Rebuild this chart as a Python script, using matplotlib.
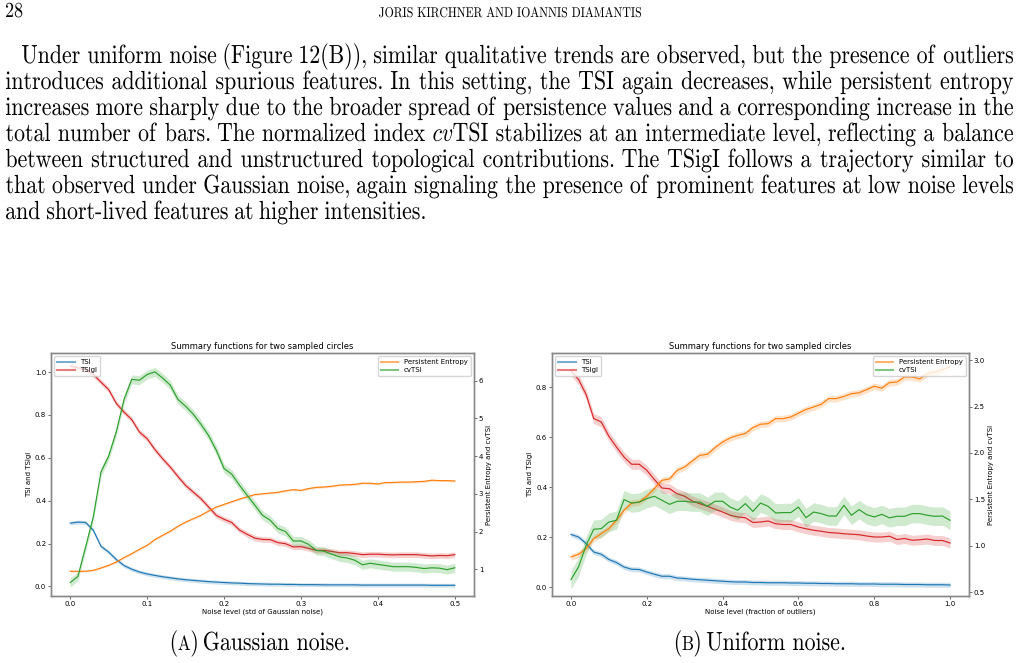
import matplotlib.pyplot as plt
import numpy as np
from matplotlib.textpath import TextPath
from matplotlib.patches import PathPatch
from matplotlib.font_manager import FontProperties
from matplotlib.transforms import Affine2D

W, H = 1019, 663
plt.rcParams['mathtext.fontset'] = 'cm'
plt.rcParams['font.family'] = 'DejaVu Sans'

# ---- data: Gaussian noise (std), step 0.01 ----
gauss_x = np.round(np.arange(51) * 0.01, 2)
gauss_tsi = [0.295, 0.300, 0.298, 0.262, 0.187, 0.160, 0.125, 0.097, 0.080, 0.067,
             0.058, 0.051, 0.045, 0.040, 0.035, 0.031, 0.028, 0.025, 0.022, 0.020,
             0.018, 0.016, 0.015, 0.013, 0.012, 0.011, 0.010, 0.010, 0.009, 0.009,
             0.008, 0.008, 0.008, 0.007, 0.007, 0.007, 0.007, 0.007, 0.006, 0.006,
             0.006, 0.006, 0.006, 0.006, 0.006, 0.006, 0.006, 0.005, 0.005, 0.005, 0.005]
gauss_tsigi = [1.028, 1.020, 1.011, 0.989, 0.953, 0.918, 0.853, 0.813, 0.778, 0.720,
               0.689, 0.639, 0.596, 0.557, 0.513, 0.471, 0.440, 0.409, 0.370, 0.331,
               0.313, 0.298, 0.263, 0.243, 0.225, 0.219, 0.218, 0.204, 0.199, 0.184,
               0.185, 0.177, 0.168, 0.168, 0.163, 0.157, 0.157, 0.153, 0.148, 0.150,
               0.150, 0.148, 0.147, 0.148, 0.148, 0.148, 0.145, 0.142, 0.144, 0.143, 0.148]
gauss_pe = [0.947, 0.947, 0.950, 0.973, 1.035, 1.106, 1.194, 1.310, 1.415, 1.530,
            1.636, 1.787, 1.900, 2.007, 2.140, 2.250, 2.340, 2.430, 2.545, 2.650,
            2.720, 2.790, 2.860, 2.920, 2.980, 3.000, 3.020, 3.040, 3.080, 3.110,
            3.090, 3.140, 3.170, 3.180, 3.200, 3.230, 3.240, 3.250, 3.280, 3.280,
            3.260, 3.300, 3.300, 3.310, 3.310, 3.320, 3.330, 3.360, 3.350, 3.350, 3.340]
gauss_cv = [0.65, 0.81, 1.59, 2.39, 3.58, 4.00, 4.65, 5.50, 6.03, 6.01,
            6.16, 6.23, 6.07, 5.88, 5.50, 5.32, 5.11, 4.84, 4.54, 4.15,
            3.67, 3.52, 3.23, 2.96, 2.70, 2.43, 2.30, 2.08, 2.00, 1.75,
            1.75, 1.66, 1.50, 1.48, 1.40, 1.33, 1.30, 1.24, 1.12, 1.16,
            1.13, 1.10, 1.07, 1.07, 1.07, 1.05, 1.02, 1.04, 1.03, 0.99, 1.04]
gauss_ci = {'tsi': 0.009, 'tsigi': 0.013, 'pe': 0.025, 'cv': 0.12}

# ---- data: uniform noise (fraction of outliers), step 0.02 ----
unif_x = np.round(np.arange(51) * 0.02, 2)
unif_tsi = [0.210, 0.200, 0.174, 0.140, 0.131, 0.110, 0.098, 0.080, 0.071, 0.070,
            0.060, 0.051, 0.043, 0.043, 0.036, 0.034, 0.031, 0.029, 0.027, 0.025,
            0.023, 0.021, 0.020, 0.020, 0.018, 0.018, 0.017, 0.017, 0.017, 0.016,
            0.016, 0.015, 0.015, 0.014, 0.014, 0.013, 0.013, 0.013, 0.012, 0.012,
            0.012, 0.011, 0.011, 0.011, 0.010, 0.010, 0.010, 0.009, 0.009, 0.009, 0.008]
unif_tsigi = [0.865, 0.830, 0.770, 0.674, 0.660, 0.603, 0.560, 0.520, 0.491, 0.491,
              0.467, 0.430, 0.396, 0.393, 0.373, 0.363, 0.344, 0.333, 0.323, 0.311,
              0.300, 0.287, 0.280, 0.277, 0.258, 0.260, 0.264, 0.253, 0.250, 0.250,
              0.240, 0.233, 0.227, 0.223, 0.218, 0.216, 0.213, 0.211, 0.209, 0.204,
              0.200, 0.200, 0.203, 0.190, 0.194, 0.187, 0.189, 0.192, 0.186, 0.186, 0.176]
unif_pe = [0.878, 0.907, 0.968, 1.076, 1.130, 1.184, 1.274, 1.382, 1.460, 1.470,
           1.533, 1.616, 1.705, 1.720, 1.813, 1.849, 1.914, 1.975, 1.986, 2.058,
           2.119, 2.162, 2.190, 2.210, 2.274, 2.310, 2.317, 2.371, 2.371, 2.389,
           2.430, 2.470, 2.496, 2.525, 2.587, 2.587, 2.610, 2.640, 2.650, 2.684,
           2.720, 2.700, 2.760, 2.766, 2.820, 2.820, 2.800, 2.857, 2.874, 2.900, 2.928]
unif_cv = [0.634, 0.770, 1.004, 1.177, 1.184, 1.255, 1.274, 1.497, 1.460, 1.470,
           1.508, 1.533, 1.490, 1.446, 1.479, 1.479, 1.470, 1.470, 1.425, 1.479,
           1.479, 1.417, 1.382, 1.454, 1.370, 1.460, 1.425, 1.353, 1.357, 1.357,
           1.417, 1.302, 1.363, 1.346, 1.320, 1.320, 1.436, 1.328, 1.389, 1.335,
           1.310, 1.338, 1.300, 1.317, 1.317, 1.346, 1.346, 1.328, 1.317, 1.320, 1.274]
unif_ci = {'tsi': 0.01, 'tsigi': 0.02, 'pe': 0.035, 'cv': 0.1}

paragraph = [
    "Under uniform noise (Figure 12(B)), similar qualitative trends are observed, but the presence of outliers",
    "introduces additional spurious features. In this setting, the TSI again decreases, while persistent entropy",
    "increases more sharply due to the broader spread of persistence values and a corresponding increase in the",
    "total number of bars. The normalized index $cv$TSI stabilizes at an intermediate level, reflecting a balance",
    "between structured and unstructured topological contributions. The TSigI follows a trajectory similar to",
    "that observed under Gaussian noise, again signaling the presence of prominent features at low noise levels",
    "and short-lived features at higher intensities.",
]

fig = plt.figure(figsize=(W / 100, H / 100), dpi=100)
FP = FontProperties(family='cmr10')
STRETCH = 1.2   # page text in the scan is taller than it is wide


def tpath(s, size):
    return TextPath((0, 0), s, size=size, prop=FP)


def ink_width(s, size):
    e = tpath(s, size).get_extents()
    return e.x1 - e.x0


def put(x, base, s, size):
    # x = left ink edge, base = baseline, both in pixels from top-left
    p = tpath(s, size)
    e = p.get_extents()
    tr = Affine2D().translate(-e.x0, 0).scale(1, STRETCH).translate(x, H - base)
    fig.add_artist(PathPatch(p, transform=tr, fc='black', lw=0))
    return e.x1 - e.x0


# body size fitted to the last (unjustified) line
body = 20 * (432 - 6) / ink_width(paragraph[-1], 20)
space = body * 0.333

# header
put(6, 17, "28", body * 0.82)
hdr = "JORIS KIRCHNER AND IOANNIS DIAMANTIS"
hsize = 20 * 262 / ink_width(hdr, 20)
put(510 - 131, 17, hdr, hsize)

# justified paragraph
base0, lead = 63, 26
for i, line in enumerate(paragraph):
    words = line.split(' ')
    widths = [ink_width(w, body) for w in words]
    x0 = 22 if i == 0 else 6
    if i == len(paragraph) - 1:
        gap = space
    else:
        gap = (1013 - x0 - sum(widths)) / (len(words) - 1)
    x = x0
    for w, wd in zip(words, widths):
        put(x, base0 + i * lead, w, body)
        x += wd + gap

# captions with small-caps letter
for cx, letter, rest in [(260, "A", "Gaussian noise."), (760, "B", "Uniform noise.")]:
    runs = [("(", body, 1.5), (letter, body * 0.78, 1.5), (")", body, space), (rest, body, 0)]
    total = sum(ink_width(s, sz) + g for s, sz, g in runs)
    x = cx - total / 2
    for s, sz, g in runs:
        x += put(x, 650, s, sz) + g

C = {'tsi': '#1f77b4', 'tsigi': '#d62728', 'pe': '#ff7f0e', 'cv': '#2ca02c'}


def panel(left, right, x, tsi, tsigi, pe, cv, ci, xlabel, ylim_l, ylim_r):
    top, bottom = 353, 596
    ax = fig.add_axes([left / W, 1 - bottom / H, (right - left) / W, (bottom - top) / H])
    ax2 = ax.twinx()
    for a, key, y in [(ax, 'tsi', tsi), (ax, 'tsigi', tsigi), (ax2, 'pe', pe), (ax2, 'cv', cv)]:
        y = np.asarray(y)
        a.fill_between(x, y - ci[key], y + ci[key], color=C[key], alpha=0.22, lw=0)
        a.plot(x, y, color=C[key], lw=0.85)
    ax.set_ylim(*ylim_l)
    ax2.set_ylim(*ylim_r)
    ax.set_xlim(x[0] - 0.05 * x[-1], x[-1] * 1.05)
    ax.set_title("Summary functions for two sampled circles", fontsize=6, pad=3)
    ax.set_xlabel(xlabel, fontsize=5, labelpad=1.5)
    ax.set_ylabel("TSI and TSIgI", fontsize=5, labelpad=2)
    ax2.set_ylabel("Persistent Entropy and cvTSI", fontsize=5, labelpad=2)
    for a in (ax, ax2):
        a.tick_params(labelsize=5, length=2, width=0.6, pad=1.5, color='#555')
        for sp in a.spines.values():
            sp.set_color('#888')
            sp.set_linewidth(1.0)
    h1 = [plt.Line2D([], [], color=C[k], lw=1.5, alpha=0.6) for k in ('tsi', 'tsigi')]
    h2 = [plt.Line2D([], [], color=C[k], lw=1.5, alpha=0.6) for k in ('pe', 'cv')]
    ax.legend(h1, ["TSI", "TSIgI"], loc='upper left', fontsize=5, handlelength=2.5,
              borderpad=0.4, labelspacing=0.3)
    ax2.legend(h2, ["Persistent Entropy", "cvTSI"], loc='upper right', fontsize=5,
               handlelength=2.5, borderpad=0.4, labelspacing=0.3)


panel(51, 474, gauss_x, gauss_tsi, gauss_tsigi, gauss_pe, gauss_cv, gauss_ci,
      "Noise level (std of Gaussian noise)", (-0.045, 1.089), (0.293, 6.73))
panel(552, 969, unif_x, unif_tsi, unif_tsigi, unif_pe, unif_cv, unif_ci,
      "Noise level (fraction of outliers)", (-0.036, 0.936), (0.457, 3.079))

fig.savefig("out.png", dpi=100)
